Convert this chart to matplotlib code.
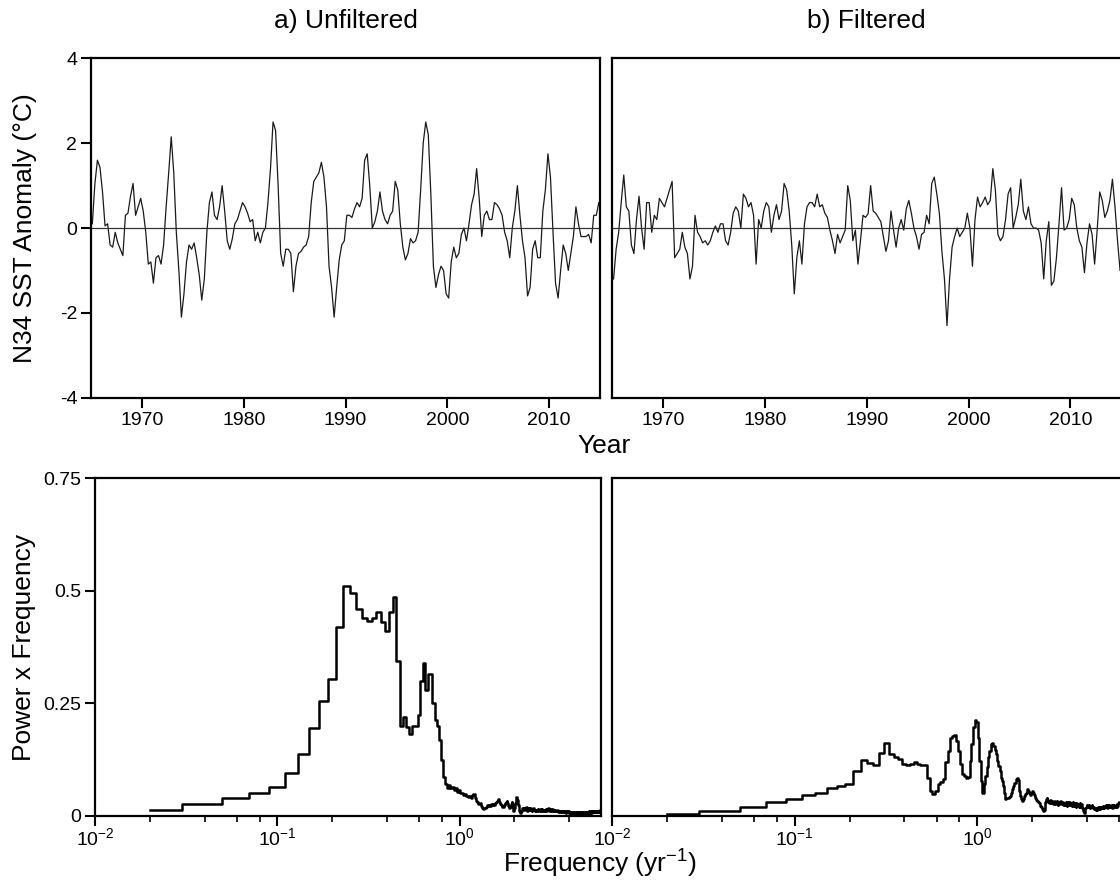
import numpy as np
import matplotlib
matplotlib.use("Agg")
import matplotlib.pyplot as plt
from matplotlib.ticker import LogLocator, NullFormatter, FixedLocator, FixedFormatter

plt.rcParams['font.family'] = ['Liberation Sans', 'DejaVu Sans']
plt.rcParams['axes.unicode_minus'] = False
plt.rcParams['mathtext.fontset'] = 'custom'
plt.rcParams['mathtext.rm'] = 'Liberation Sans'
plt.rcParams['mathtext.it'] = 'Liberation Sans:italic'
plt.rcParams['mathtext.bf'] = 'Liberation Sans:bold'

# --- N34 SST anomaly at quarterly resolution (1965-2014) ---
years = 1965.125 + 0.25 * np.arange(200)

sst_unfiltered = [
    0.10, 1.04, 1.60, 1.43,   0.85, 0.05, 0.10, -0.40,   -0.45, -0.10, -0.35, -0.50,
    -0.65, 0.30, 0.35, 0.75,   1.05, 0.30, 0.50, 0.70,   0.40, -0.10, -0.85, -0.80,
    -1.30, -0.70, -0.65, -0.85,   -0.40, 0.50, 1.30, 2.15,   1.30, -0.10, -1.00, -2.10,
    -1.55, -0.80, -0.40, -0.50,   -0.35, -0.70, -1.10, -1.70,   -1.20, -0.10, 0.60, 0.85,
    0.30, 0.20, 0.50, 1.00,   0.40, -0.30, -0.50, -0.25,   0.10, 0.20, 0.40, 0.60,
    0.50, 0.35, 0.15, 0.20,   -0.30, -0.10, -0.35, -0.10,   0.00, 0.60, 1.40, 2.50,
    2.30, 1.00, -0.60, -0.90,   -0.50, -0.50, -0.60, -1.50,   -0.90, -0.60, -0.55, -0.45,
    -0.40, -0.20, 0.60, 1.10,   1.20, 1.30, 1.55, 1.20,   0.50, -0.90, -1.40, -2.10,
    -1.40, -0.75, -0.40, -0.30,   0.30, 0.30, 0.25, 0.45,   0.60, 0.50, 0.70, 1.60,
    1.75, 1.00, 0.00, 0.15,   0.40, 0.85, 0.40, 0.20,   0.10, 0.30, 0.40, 1.10,
    0.90, 0.10, -0.45, -0.75,   -0.60, -0.25, -0.35, -0.30,   -0.10, 0.90, 2.00, 2.50,
    2.20, 0.80, -0.90, -1.40,   -1.10, -0.90, -1.00, -1.55,   -1.65, -0.80, -0.45, -0.70,
    -0.60, -0.15, 0.00, -0.30,   0.10, 0.55, 0.80, 1.40,   0.70, -0.20, 0.30, 0.40,
    0.20, 0.20, 0.60, 0.55,   0.45, 0.30, -0.10, -0.30,   -0.70, 0.00, 0.40, 1.00,
    0.30, -0.30, -0.70, -1.60,   -1.40, -0.50, -0.30, -0.70,   -0.70, 0.40, 0.90, 1.75,
    1.20, -0.10, -1.30, -1.65,   -1.00, -0.40, -0.60, -1.00,   -0.60, -0.20, 0.50, 0.10,
    -0.20, -0.20, -0.20, -0.15,   -0.35, 0.30, 0.30, 0.60,
]

sst_filtered = [
    -1.20, -0.50, -0.10, 0.60,   1.25, 0.50, 0.40, -0.40,   -0.60, 0.20, 0.75, 0.00,
    -0.50, 0.60, 0.60, -0.10,   0.30, 0.20, 0.70, 0.60,   0.50, 0.70, 0.90, 1.10,
    -0.70, -0.60, -0.50, -0.10,   -0.45, -0.60, -1.20, -0.90,   0.30, -0.10, -0.20, -0.35,
    -0.30, -0.40, -0.30, -0.10,   0.05, -0.10, 0.10, 0.10,   -0.30, -0.40, -0.10, 0.35,
    0.50, 0.40, 0.00, 0.80,   0.70, 0.50, 0.60, 0.30,   -0.85, 0.20, 0.00, 0.40,
    0.60, 0.50, -0.10, 0.30,   0.55, 0.20, 0.40, 1.05,   0.90, 0.40, -0.40, -1.55,
    -0.70, -0.30, -0.85, 0.10,   0.50, 0.60, 0.60, 0.50,   0.80, 0.50, 0.55, 0.35,
    0.25, -0.05, -0.30, -0.60,   -0.15, -0.35, -0.20, -0.05,   1.00, 0.65, -0.30, -0.05,
    -0.85, -0.30, 0.30, 0.25,   0.34, 1.00, 0.40, 0.35,   0.25, 0.15, -0.20, -0.55,
    -0.30, 0.40, -0.05, -0.45,   0.00, 0.20, -0.05, 0.45,   0.65, 0.35, 0.00, -0.20,
    -0.50, -0.15, -0.10, 0.30,   0.10, 1.05, 1.20, 0.80,   0.35, -0.55, -1.20, -2.30,
    -1.20, -0.45, -0.20, 0.00,   -0.20, -0.10, 0.00, 0.35,   0.00, -0.90, 0.20, 0.73,
    0.50, 0.60, 0.73, 0.55,   0.65, 1.40, 0.90, -0.15,   -0.30, -0.20, 0.20, 0.80,
    0.95, 0.00, 0.25, 0.55,   1.15, 0.40, 0.20, 0.50,   0.10, 0.00, 0.00, -0.05,
    -0.35, -1.20, -0.30, 0.15,   -1.35, -1.25, -0.70, 0.10,   0.95, -0.05, 0.00, 0.20,
    0.70, 0.55, 0.00, -0.30,   -0.45, -1.05, -0.35, 0.10,   -0.15, -0.85, -0.05, 0.85,
    0.65, 0.25, 0.40, 0.65,   1.15, 0.50, -0.30, -1.00,
]

# --- power x frequency, bins of 1/50 yr^-1 up to Nyquist (6 yr^-1) ---
freq = 0.02 * np.arange(1, 301)

pf_unfiltered = [
    0.013, 0.026, 0.039, 0.052, 0.064, 0.096, 0.138, 0.196, 0.255, 0.303,
    0.420, 0.510, 0.495, 0.460, 0.440, 0.433, 0.440, 0.453, 0.430, 0.410,
    0.453, 0.487, 0.345, 0.200, 0.220, 0.198, 0.182, 0.200, 0.200, 0.224,
    0.300, 0.340, 0.280, 0.315, 0.315, 0.250, 0.213, 0.200, 0.169, 0.124,
    0.087, 0.071, 0.061, 0.069, 0.061, 0.065, 0.058, 0.061, 0.054, 0.058,
    0.052, 0.050, 0.047, 0.049, 0.045, 0.043, 0.044, 0.041, 0.046, 0.048,
    0.040, 0.034, 0.030, 0.026, 0.028, 0.022, 0.018, 0.015, 0.017, 0.020,
    0.024, 0.022, 0.025, 0.023, 0.026, 0.024, 0.027, 0.025, 0.028, 0.030,
    0.033, 0.037, 0.030, 0.026, 0.024, 0.021, 0.020, 0.024, 0.028, 0.031,
    0.034, 0.028, 0.022, 0.018, 0.021, 0.026, 0.030, 0.024, 0.012, 0.018,
    0.028, 0.036, 0.042, 0.035, 0.024, 0.015, 0.010, 0.006, 0.012, 0.016,
    0.018, 0.015, 0.017, 0.013, 0.016, 0.019, 0.014, 0.012, 0.015, 0.018,
    0.016, 0.013, 0.017, 0.014, 0.012, 0.015, 0.018, 0.016, 0.013, 0.011,
    0.014, 0.012, 0.010, 0.013, 0.015, 0.012, 0.011, 0.014, 0.016, 0.013,
    0.012, 0.015, 0.013, 0.010, 0.012, 0.014, 0.011, 0.013, 0.015, 0.012,
    0.014, 0.016, 0.013, 0.017, 0.015, 0.012, 0.014, 0.016, 0.013, 0.011,
    0.013, 0.015, 0.012, 0.010, 0.013, 0.011, 0.014, 0.012, 0.010, 0.012,
    0.011, 0.013, 0.010, 0.012, 0.009, 0.011, 0.010, 0.012, 0.009, 0.008,
    0.010, 0.012, 0.009, 0.011, 0.008, 0.010, 0.009, 0.011, 0.008, 0.010,
    0.009, 0.007, 0.010, 0.008, 0.009, 0.011, 0.008, 0.010, 0.007, 0.009,
    0.008, 0.006, 0.009, 0.007, 0.008, 0.006, 0.009, 0.007, 0.005, 0.008,
    0.007, 0.009, 0.006, 0.008, 0.005, 0.007, 0.009, 0.006, 0.008, 0.007,
    0.005, 0.008, 0.006, 0.007, 0.009, 0.006, 0.005, 0.007, 0.008, 0.006,
    0.007, 0.005, 0.008, 0.006, 0.007, 0.009, 0.006, 0.008, 0.005, 0.007,
    0.006, 0.008, 0.007, 0.005, 0.007, 0.009, 0.006, 0.008, 0.007, 0.006,
    0.008, 0.007, 0.009, 0.006, 0.008, 0.010, 0.007, 0.009, 0.008, 0.006,
    0.009, 0.011, 0.008, 0.010, 0.007, 0.009, 0.011, 0.008, 0.010, 0.012,
    0.009, 0.011, 0.008, 0.010, 0.012, 0.009, 0.011, 0.008, 0.010, 0.009,
    0.011, 0.009, 0.012, 0.010, 0.008, 0.011, 0.009, 0.012, 0.010, 0.011,
    0.009, 0.012, 0.010, 0.011, 0.013, 0.010, 0.012, 0.011, 0.013, 0.014,
]

pf_filtered = [
    0.005, 0.011, 0.019, 0.030, 0.037, 0.047, 0.052, 0.062, 0.067, 0.072,
    0.100, 0.124, 0.117, 0.113, 0.139, 0.161, 0.137, 0.131, 0.126, 0.115,
    0.113, 0.116, 0.119, 0.115, 0.113, 0.113, 0.085, 0.056, 0.048, 0.056,
    0.070, 0.076, 0.082, 0.119, 0.145, 0.174, 0.178, 0.180, 0.167, 0.145,
    0.115, 0.093, 0.089, 0.085, 0.087, 0.122, 0.160, 0.197, 0.213, 0.208,
    0.174, 0.122, 0.078, 0.052, 0.070, 0.089, 0.108, 0.130, 0.145, 0.160,
    0.163, 0.156, 0.146, 0.137, 0.122, 0.111, 0.100, 0.085, 0.078, 0.067,
    0.052, 0.037, 0.041, 0.039, 0.042, 0.045, 0.052, 0.059, 0.067, 0.074,
    0.074, 0.082, 0.085, 0.080, 0.067, 0.056, 0.045, 0.037, 0.033, 0.037,
    0.045, 0.048, 0.052, 0.056, 0.059, 0.055, 0.050, 0.047, 0.048, 0.052,
    0.055, 0.050, 0.046, 0.044, 0.040, 0.036, 0.033, 0.030, 0.032, 0.028,
    0.024, 0.022, 0.019, 0.015, 0.012, 0.010, 0.014, 0.022, 0.030, 0.038,
    0.041, 0.036, 0.030, 0.033, 0.028, 0.031, 0.035, 0.029, 0.033, 0.030,
    0.027, 0.031, 0.034, 0.029, 0.026, 0.030, 0.033, 0.028, 0.025, 0.029,
    0.032, 0.027, 0.030, 0.034, 0.029, 0.026, 0.031, 0.028, 0.025, 0.029,
    0.027, 0.024, 0.028, 0.031, 0.026, 0.023, 0.027, 0.030, 0.025, 0.028,
    0.031, 0.027, 0.024, 0.029, 0.026, 0.023, 0.027, 0.030, 0.026, 0.022,
    0.025, 0.028, 0.024, 0.021, 0.026, 0.029, 0.025, 0.022, 0.027, 0.024,
    0.021, 0.025, 0.028, 0.023, 0.020, 0.024, 0.027, 0.022, 0.019, 0.017,
    0.014, 0.011, 0.008, 0.007, 0.010, 0.014, 0.018, 0.021, 0.019, 0.022,
    0.024, 0.020, 0.023, 0.019, 0.022, 0.025, 0.021, 0.018, 0.022, 0.020,
    0.023, 0.019, 0.021, 0.024, 0.020, 0.017, 0.021, 0.019, 0.016, 0.019,
    0.015, 0.018, 0.016, 0.013, 0.017, 0.015, 0.018, 0.014, 0.016, 0.019,
    0.017, 0.020, 0.016, 0.019, 0.021, 0.018, 0.016, 0.019, 0.017, 0.020,
    0.018, 0.021, 0.019, 0.017, 0.020, 0.022, 0.019, 0.021, 0.018, 0.020,
    0.022, 0.019, 0.021, 0.024, 0.020, 0.022, 0.019, 0.023, 0.021, 0.018,
    0.021, 0.024, 0.020, 0.022, 0.025, 0.021, 0.019, 0.023, 0.020, 0.022,
    0.019, 0.021, 0.024, 0.020, 0.023, 0.021, 0.018, 0.022, 0.025, 0.021,
    0.023, 0.020, 0.024, 0.022, 0.019, 0.023, 0.021, 0.025, 0.022, 0.020,
    0.024, 0.021, 0.023, 0.026, 0.022, 0.025, 0.023, 0.027, 0.029, 0.031,
]

year_ticks = [1970, 1980, 1990, 2000, 2010]
sst_ticks = [-4, -2, 0, 2, 4]
pf_ticks = [0, 0.25, 0.5, 0.75]
pf_tick_labels = ['0', '0.25', '0.5', '0.75']

fig = plt.figure(figsize=(11.2, 8.88), dpi=100)

ax_a = fig.add_axes([0.0813, 0.5521, 0.4545, 0.3822])
ax_b = fig.add_axes([0.5467, 0.5521, 0.4545, 0.3822])
ax_c = fig.add_axes([0.0848, 0.0811, 0.4518, 0.3806])
ax_d = fig.add_axes([0.5467, 0.0811, 0.4545, 0.3806])


def style_axes(ax):
    for sp in ax.spines.values():
        sp.set_linewidth(1.6)
    ax.tick_params(which='major', direction='out', length=7, width=1.5,
                   labelsize=14, pad=3)
    ax.tick_params(which='minor', direction='out', length=4, width=1.2)


# time series panels
for ax, series in [(ax_a, sst_unfiltered), (ax_b, sst_filtered)]:
    ax.plot(years, series, color='#1a1a1a', lw=0.9)
    ax.axhline(0, color='#333333', lw=0.9)
    ax.set_xlim(1965, 2015)
    ax.set_ylim(-4, 4)
    ax.set_xticks(year_ticks)
    ax.set_yticks(sst_ticks)
    style_axes(ax)

# spectrum panels
for ax, spec, fmax in [(ax_c, pf_unfiltered, 5.97), (ax_d, pf_filtered, 6.19)]:
    ax.step(freq, spec, where='mid', color='black', lw=1.8)
    ax.set_xscale('log')
    ax.set_xlim(0.01, fmax)
    ax.set_ylim(0, 0.75)
    ax.xaxis.set_major_locator(LogLocator(base=10, numticks=10))
    ax.xaxis.set_minor_locator(LogLocator(base=10, subs=(2, 4, 6, 8), numticks=10))
    ax.xaxis.set_minor_formatter(NullFormatter())
    ax.yaxis.set_major_locator(FixedLocator(pf_ticks))
    ax.yaxis.set_major_formatter(FixedFormatter(pf_tick_labels))
    style_axes(ax)
    ax.tick_params(axis='x', which='major', pad=1)

for ax in (ax_b, ax_d):
    ax.tick_params(axis='y', which='both', left=False, labelleft=False)

fig.text(345.5 / 1120, 1 - 21 / 888, 'a) Unfiltered', ha='center', va='center', fontsize=19)
fig.text(866 / 1120, 1 - 21 / 888, 'b) Filtered', ha='center', va='center', fontsize=19)
fig.text(604 / 1120, 1 - 446 / 888, 'Year', ha='center', va='center', fontsize=19)
fig.text(600 / 1120, 1 - 864 / 888, 'Frequency (yr$^{-1}$)', ha='center', va='center', fontsize=19)
fig.text(25 / 1120, 1 - 228 / 888, 'N34 SST Anomaly (\u00b0C)', ha='center', va='center',
         rotation=90, fontsize=19)
fig.text(24 / 1120, 1 - 647 / 888, 'Power x Frequency', ha='center', va='center',
         rotation=90, fontsize=19)

fig.savefig('out.png', dpi=100)
